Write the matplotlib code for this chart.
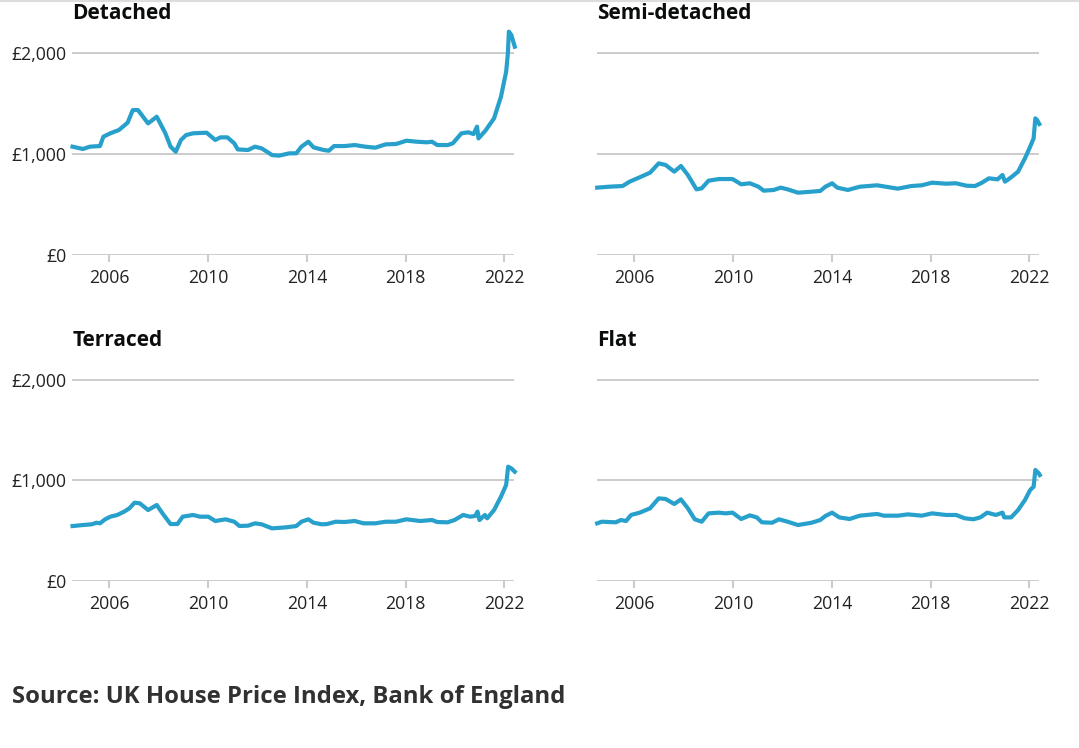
import matplotlib
matplotlib.use("Agg")
import matplotlib.pyplot as plt
from matplotlib.lines import Line2D

plt.rcParams['font.family'] = ['Open Sans', 'DejaVu Sans']

# values (£)
detached_years = [2004.51, 2004.93, 2005.21, 2005.62, 2005.76, 2006.04, 2006.39, 2006.74, 2006.95,
                  2007.16, 2007.57, 2007.92, 2008.27, 2008.48, 2008.69, 2008.90, 2009.11, 2009.39,
                  2009.94, 2010.29, 2010.50, 2010.78, 2011.06, 2011.20, 2011.62, 2011.90, 2012.17,
                  2012.59, 2012.87, 2013.29, 2013.57, 2013.78, 2014.06, 2014.27, 2014.68, 2014.89,
                  2015.10, 2015.52, 2015.94, 2016.36, 2016.77, 2017.19, 2017.61, 2018.03, 2018.45,
                  2018.86, 2019.07, 2019.28, 2019.70, 2019.91, 2020.26, 2020.54, 2020.75, 2020.89,
                  2020.95, 2021.23, 2021.58, 2021.86, 2022.07, 2022.14, 2022.18, 2022.28, 2022.42]
detached = [1071, 1048, 1071, 1077, 1170, 1203, 1236, 1308, 1433,
            1433, 1301, 1367, 1203, 1071, 1021, 1137, 1186, 1203,
            1209, 1137, 1163, 1163, 1104, 1044, 1038, 1071, 1054,
            988, 982, 1005, 1005, 1071, 1120, 1064, 1038, 1031,
            1077, 1077, 1087, 1071, 1061, 1094, 1097, 1130, 1120,
            1114, 1120, 1087, 1087, 1104, 1203, 1213, 1196, 1269,
            1153, 1229, 1351, 1565, 1812, 1994, 2208, 2175, 2059]

semi_years = [2004.50, 2004.97, 2005.53, 2005.81, 2006.22, 2006.64, 2006.99, 2007.27, 2007.62,
              2007.89, 2008.17, 2008.52, 2008.73, 2009.01, 2009.43, 2009.98, 2010.33, 2010.68,
              2011.03, 2011.24, 2011.65, 2011.93, 2012.21, 2012.63, 2013.18, 2013.53, 2013.74,
              2014.01, 2014.22, 2014.65, 2015.13, 2015.83, 2016.67, 2017.22, 2017.64, 2018.06,
              2018.62, 2019.03, 2019.45, 2019.80, 2020.08, 2020.36, 2020.71, 2020.91, 2021.01,
              2021.26, 2021.54, 2021.82, 2022.03, 2022.17, 2022.24, 2022.31, 2022.40]
semi = [666, 675, 682, 725, 768, 814, 906, 890, 824,
        880, 791, 649, 659, 735, 751, 751, 699, 709,
        675, 636, 643, 666, 649, 616, 626, 633, 675,
        709, 666, 643, 675, 689, 656, 682, 689, 715,
        705, 709, 685, 682, 715, 758, 748, 791, 725,
        768, 824, 956, 1071, 1153, 1351, 1334, 1295]

terraced_years = [2004.51, 2004.93, 2005.28, 2005.48, 2005.62, 2005.83, 2006.04, 2006.32, 2006.60,
                  2006.81, 2007.02, 2007.23, 2007.57, 2007.92, 2008.20, 2008.48, 2008.76, 2008.97,
                  2009.39, 2009.67, 2010.01, 2010.29, 2010.71, 2011.06, 2011.27, 2011.62, 2011.90,
                  2012.17, 2012.59, 2013.15, 2013.57, 2013.78, 2014.06, 2014.27, 2014.61, 2014.82,
                  2015.17, 2015.52, 2015.94, 2016.29, 2016.77, 2017.19, 2017.61, 2018.03, 2018.59,
                  2019.07, 2019.28, 2019.70, 2019.98, 2020.33, 2020.61, 2020.82, 2020.91, 2020.99,
                  2021.21, 2021.30, 2021.58, 2021.86, 2022.07, 2022.15, 2022.28, 2022.42]
terraced = [546, 556, 563, 579, 573, 613, 639, 656, 689,
            722, 778, 772, 705, 755, 656, 566, 566, 639,
            656, 639, 639, 596, 613, 589, 546, 550, 573,
            563, 523, 533, 546, 589, 613, 579, 563, 566,
            589, 586, 596, 573, 573, 589, 589, 613, 596,
            606, 586, 583, 606, 656, 639, 646, 689, 606,
            656, 623, 705, 838, 954, 1136, 1119, 1086]

flat_years = [2004.50, 2004.69, 2005.25, 2005.46, 2005.67, 2005.87, 2006.22, 2006.64, 2006.99,
              2007.27, 2007.62, 2007.89, 2008.17, 2008.45, 2008.73, 2009.01, 2009.43, 2009.70,
              2009.98, 2010.33, 2010.68, 2010.96, 2011.17, 2011.58, 2011.86, 2012.21, 2012.63,
              2013.18, 2013.53, 2013.74, 2014.01, 2014.30, 2014.72, 2015.13, 2015.83, 2016.11,
              2016.67, 2017.08, 2017.64, 2018.06, 2018.62, 2019.03, 2019.38, 2019.73, 2020.01,
              2020.29, 2020.64, 2020.91, 2020.98, 2021.26, 2021.54, 2021.82, 2022.03, 2022.17,
              2022.24, 2022.38, 2022.42]
flat = [573, 589, 583, 606, 596, 656, 679, 722, 821,
        815, 765, 811, 722, 613, 589, 672, 679, 672,
        679, 616, 652, 632, 583, 579, 613, 589, 556,
        579, 606, 646, 679, 632, 616, 649, 666, 649,
        649, 662, 649, 672, 656, 656, 623, 613, 632,
        679, 656, 679, 632, 632, 705, 805, 904, 937,
        1103, 1070, 1053]

titles = ["Detached", "Semi-detached", "Terraced", "Flat"]
series = [(detached_years, detached), (semi_years, semi),
          (terraced_years, terraced), (flat_years, flat)]
year_ticks = [2006, 2010, 2014, 2018, 2022]
price_ticks = [0, 1000, 2000]
price_labels = ["£0", "£1,000", "£2,000"]

W, H = 1079, 748
LINE = '#27a0cc'
GRID = '#cccccc'

fig = plt.figure(figsize=(W / 100, H / 100), dpi=100)

# panel boxes in pixels: left, right, y of £0, y of £2,000
boxes = [(72.3, 513.8, 255.0, 52.7), (597.2, 1038.8, 255.0, 52.7),
         (72.3, 513.8, 581.0, 379.7), (597.2, 1038.8, 581.0, 379.7)]
ymax = 2250

for i, ((x0, x1, y0, y2), title, (xs, ys)) in enumerate(zip(boxes, titles, series)):
    per = (y0 - y2) / 2000.0
    top = y0 - ymax * per
    ax = fig.add_axes([x0 / W, 1 - y0 / H, (x1 - x0) / W, (y0 - top) / H])
    ax.set_xlim(2004.5, 2022.38)
    ax.set_ylim(0, ymax)
    for s in ax.spines.values():
        s.set_visible(False)
    for v in price_ticks:
        ax.axhline(v, color=GRID, lw=1.4, zorder=1)
    ax.plot(xs, ys, color=LINE, lw=3, solid_joinstyle='round', zorder=3, clip_on=False)

    ax.set_xticks(year_ticks)
    ax.set_xticklabels([str(y) for y in year_ticks])
    ax.tick_params(axis='x', length=5, width=1.5, color=GRID, pad=5,
                   labelsize=12.7, labelcolor='#222222')
    ax.set_yticks(price_ticks)
    if i % 2 == 0:
        ax.set_yticklabels(price_labels)
    else:
        ax.set_yticklabels([])
    ax.tick_params(axis='y', length=0, pad=4, labelsize=12.7, labelcolor='#222222')

    fig.text(x0 / W, 1 - (y2 - 39) / H, title, fontsize=15, fontweight='bold',
             color='#0b0c0c', ha='left', va='center')

fig.text(12 / W, 1 - 697 / H, "Source: UK House Price Index, Bank of England",
         fontsize=17.2, fontweight='bold', color='#323132', ha='left', va='center')

# thin grey rule along the top edge
fig.add_artist(Line2D([0, 1], [1 - 1 / H, 1 - 1 / H], transform=fig.transFigure,
                      color='#dddddd', lw=1.5))

fig.savefig('out.png', dpi=100)
